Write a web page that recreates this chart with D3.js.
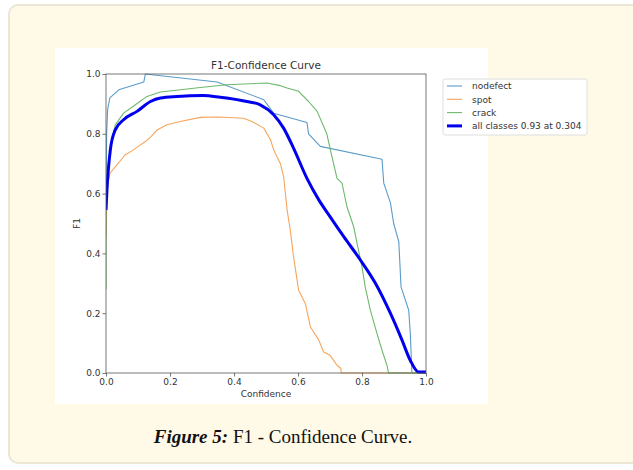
<!DOCTYPE html>
<html>
<head>
<meta charset="utf-8">
<script src="https://cdn.jsdelivr.net/npm/d3@7"></script>
<style>
  body { margin: 0; background: #fff; }
  svg { display: block; }
</style>
</head>
<body>
<svg width="633" height="470"></svg>
<script>
// F1 vs confidence
var nodefectConf = [0, 0.002, 0.005, 0.012, 0.04, 0.118, 0.123, 0.347, 0.493, 0.524, 0.628, 0.633, 0.67, 0.8625, 0.868, 0.889, 0.899, 0.915, 0.922, 0.946, 0.951, 0.956, 1.0];
var nodefectF1   = [0.55, 0.80, 0.88, 0.92, 0.947, 0.973, 1.0, 0.973, 0.914, 0.869, 0.838, 0.80, 0.758, 0.715, 0.635, 0.568, 0.50, 0.439, 0.288, 0.21, 0.132, 0.0, 0.0];

var spotConf = [0, 0.003, 0.0125, 0.034, 0.06, 0.08, 0.10, 0.123, 0.14, 0.16, 0.19, 0.232, 0.295, 0.35, 0.43, 0.456, 0.493, 0.514, 0.524, 0.545, 0.555, 0.566, 0.576, 0.586, 0.602, 0.623, 0.639, 0.665, 0.68, 0.70, 0.722, 0.734, 0.735, 1.0];
var spotF1   = [0.45, 0.62, 0.668, 0.696, 0.73, 0.742, 0.757, 0.774, 0.79, 0.813, 0.83, 0.841, 0.855, 0.856, 0.852, 0.841, 0.819, 0.78, 0.746, 0.70, 0.657, 0.545, 0.478, 0.389, 0.277, 0.232, 0.154, 0.11, 0.07, 0.059, 0.026, 0.015, 0.0, 0.0];

var crackConf = [0, 0.0, 0.003, 0.012, 0.029, 0.055, 0.092, 0.128, 0.17, 0.295, 0.378, 0.503, 0.545, 0.566, 0.602, 0.633, 0.66, 0.69, 0.706, 0.722, 0.7375, 0.753, 0.774, 0.79, 0.80, 0.81, 0.826, 0.847, 0.8625, 0.878, 0.883, 1.0];
var crackF1   = [0.28, 0.55, 0.62, 0.75, 0.83, 0.869, 0.897, 0.925, 0.94, 0.955, 0.964, 0.97, 0.961, 0.953, 0.942, 0.908, 0.875, 0.80, 0.724, 0.651, 0.635, 0.556, 0.489, 0.406, 0.355, 0.288, 0.21, 0.132, 0.076, 0.026, 0.0, 0.0];

var allConf = [0, 0.003, 0.0135, 0.029, 0.055, 0.097, 0.139, 0.17, 0.222, 0.304, 0.357, 0.44, 0.482, 0.524, 0.555, 0.586, 0.628, 0.665, 0.70, 0.743, 0.795, 0.842, 0.889, 0.925, 0.951, 0.977, 1.0];
var allF1   = [0.545, 0.612, 0.746, 0.813, 0.847, 0.875, 0.908, 0.92, 0.925, 0.928, 0.922, 0.908, 0.897, 0.864, 0.819, 0.752, 0.651, 0.579, 0.523, 0.456, 0.378, 0.30, 0.199, 0.11, 0.042, 0.003, 0.003];

var seriesNames = ['nodefect', 'spot', 'crack', 'all classes 0.93 at 0.304'];
var seriesColors = ['#5b9bc9', '#f5a55c', '#6cb96c', '#0000ee'];
var seriesWidths = [1.1, 1.1, 1.1, 3];
var xTicks = [0, 0.2, 0.4, 0.6, 0.8, 1.0];
var yTicks = [0, 0.2, 0.4, 0.6, 0.8, 1.0];

var series = [
  { name: seriesNames[0], conf: nodefectConf, f1: nodefectF1, smooth: false },
  { name: seriesNames[1], conf: spotConf, f1: spotF1, smooth: false },
  { name: seriesNames[2], conf: crackConf, f1: crackF1, smooth: false },
  { name: seriesNames[3], conf: allConf, f1: allF1, smooth: true }
];

var svg = d3.select('svg');

// card behind the figure
svg.append('rect')
  .attr('x', 9).attr('y', 5)
  .attr('width', 640).attr('height', 458)
  .attr('rx', 9).attr('ry', 9)
  .attr('fill', '#fffae8')
  .attr('stroke', '#ebe7d6')
  .attr('stroke-width', 2);

svg.append('rect')
  .attr('x', 55).attr('y', 48)
  .attr('width', 433).attr('height', 356)
  .attr('fill', '#fff');

var plotLeft = 106, plotRight = 426, plotTop = 74, plotBottom = 373;

var x = d3.scaleLinear().domain([0, 1]).range([plotLeft, plotRight]);
var y = d3.scaleLinear().domain([0, 1]).range([plotBottom, plotTop]);

var plot = svg.append('g');

plot.append('defs').append('clipPath').attr('id', 'clip')
  .append('rect')
  .attr('x', plotLeft).attr('y', plotTop - 2)
  .attr('width', plotRight - plotLeft).attr('height', plotBottom - plotTop + 4);

var line = d3.line()
  .x(function(d) { return x(d[0]); })
  .y(function(d) { return y(d[1]); });
var smoothLine = d3.line()
  .x(function(d) { return x(d[0]); })
  .y(function(d) { return y(d[1]); })
  .curve(d3.curveMonotoneX);

plot.append('g').attr('clip-path', 'url(#clip)')
  .selectAll('path')
  .data(series)
  .enter()
  .append('path')
  .attr('d', function(d) {
    var pts = d.conf.map(function(c, i) { return [c, d.f1[i]]; });
    return d.smooth ? smoothLine(pts) : line(pts);
  })
  .attr('fill', 'none')
  .attr('stroke', function(d, i) { return seriesColors[i]; })
  .attr('stroke-width', function(d, i) { return seriesWidths[i]; })
  .attr('stroke-linejoin', 'round');

// frame
plot.append('rect')
  .attr('x', plotLeft).attr('y', plotTop)
  .attr('width', plotRight - plotLeft).attr('height', plotBottom - plotTop)
  .attr('fill', 'none')
  .attr('stroke', '#555')
  .attr('stroke-width', 0.8);

var fmt = d3.format('.1f');

var xAxis = plot.append('g')
  .attr('transform', 'translate(0,' + plotBottom + ')')
  .call(d3.axisBottom(x).tickValues(xTicks).tickFormat(fmt).tickSize(3.5).tickPadding(2));
var yAxis = plot.append('g')
  .attr('transform', 'translate(' + plotLeft + ',0)')
  .call(d3.axisLeft(y).tickValues(yTicks).tickFormat(fmt).tickSize(3.5).tickPadding(2));

[xAxis, yAxis].forEach(function(a) {
  a.select('.domain').remove();
  a.selectAll('line').attr('stroke', '#555').attr('stroke-width', 0.8);
  a.selectAll('text')
    .attr('fill', '#333')
    .style('font-family', 'DejaVu Sans')
    .style('font-size', '9px');
});

svg.append('text')
  .attr('x', (plotLeft + plotRight) / 2).attr('y', 69)
  .attr('text-anchor', 'middle')
  .style('font-family', 'DejaVu Sans').style('font-size', '10.5px')
  .attr('fill', '#333')
  .text('F1-Confidence Curve');

svg.append('text')
  .attr('x', (plotLeft + plotRight) / 2).attr('y', 397)
  .attr('text-anchor', 'middle')
  .style('font-family', 'DejaVu Sans').style('font-size', '9px')
  .attr('fill', '#333')
  .text('Confidence');

svg.append('text')
  .attr('transform', 'translate(80,' + ((plotTop + plotBottom) / 2) + ') rotate(-90)')
  .attr('text-anchor', 'middle')
  .style('font-family', 'DejaVu Sans').style('font-size', '9px')
  .attr('fill', '#333')
  .text('F1');

// legend
var legend = svg.append('g');
legend.append('rect')
  .attr('x', 443).attr('y', 79)
  .attr('width', 144).attr('height', 56)
  .attr('rx', 2)
  .attr('fill', '#fff')
  .attr('stroke', '#d6d6d6')
  .attr('stroke-width', 0.8);

var rows = legend.selectAll('g.row')
  .data(series)
  .enter()
  .append('g')
  .attr('transform', function(d, i) { return 'translate(0,' + (86 + i * 13.3) + ')'; });

rows.append('line')
  .attr('x1', 447).attr('x2', 462)
  .attr('stroke', function(d, i) { return seriesColors[i]; })
  .attr('stroke-width', function(d, i) { return seriesWidths[i]; });

rows.append('text')
  .attr('x', 472).attr('y', 3.2)
  .style('font-family', 'DejaVu Sans').style('font-size', '9px')
  .attr('fill', '#333')
  .text(function(d) { return d.name; });

// caption
var cap = svg.append('text')
  .attr('x', 283).attr('y', 443)
  .attr('text-anchor', 'middle')
  .style('font-family', 'Liberation Serif').style('font-size', '19px')
  .attr('fill', '#111');
cap.append('tspan').style('font-weight', 'bold').style('font-style', 'italic').text('Figure 5:');
cap.append('tspan').text(' F1 - Confidence Curve.');
</script>
</body>
</html>
